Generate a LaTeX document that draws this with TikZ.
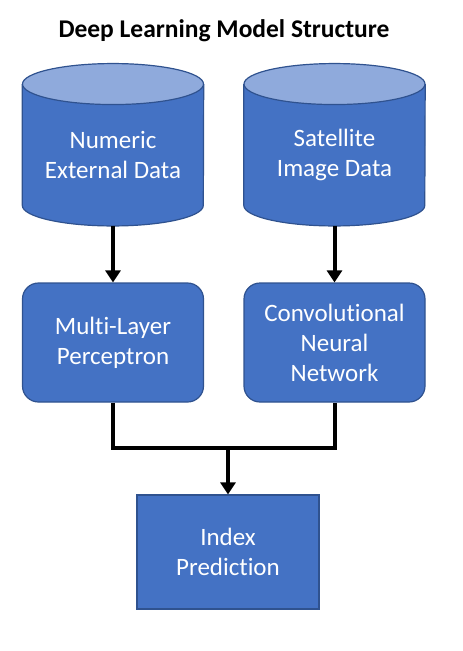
\documentclass[tikz,border=0pt]{standalone}
\usepackage{fontspec}
\setmainfont{Carlito}[Ligatures=NoCommon]
\usetikzlibrary{arrows.meta,backgrounds}
\definecolor{boxblue}{HTML}{4472C4}
\definecolor{boxedge}{HTML}{2F528F}
\definecolor{topblue}{HTML}{8FAADC}

\begin{document}
\begin{tikzpicture}[x=1pt,y=1pt,
    boxtext/.style={text=white,font=\fontsize{25}{30}\selectfont,align=center},
    storebody/.style={boxtext,inner sep=0pt,minimum width=181pt,minimum height=100.5pt},
    storeline/.style={draw=boxedge,line width=1.2pt},
    roundbox/.style={boxtext,rectangle,rounded corners=16pt,fill=boxblue,draw=boxedge,line width=1.2pt,
      minimum width=181pt,minimum height=119pt},
    predbox/.style={boxtext,rectangle,fill=boxblue,draw=boxedge,line width=1.2pt,
      minimum width=182pt,minimum height=114pt},
    link/.style={line width=4pt,black},
    flow/.style={link,-{Triangle[width=15pt,length=12pt]}}]
  \useasboundingbox (0,0) rectangle (463,-651);
  % title
  \node[font=\bfseries\fontsize{25.5}{30}\selectfont] (title) at (224,-31) {Deep Learning Model Structure};
  % inputs
  \node[storebody] (numdata) at (113,-155) {Numeric\\External Data};
  \node[storebody] (satdata) at (334.5,-155) {Satellite\\Image Data};
  \begin{scope}[on background layer]
    \foreach \s in {numdata,satdata}{
      \filldraw[storeline,fill=boxblue] ([yshift=20.5pt]\s.north west) -- (\s.south west)
        arc[start angle=180,end angle=360,x radius=90.5pt,y radius=20.5pt] -- ([yshift=20.5pt]\s.north east);
      \filldraw[storeline,fill=topblue] ([yshift=20.5pt]\s.north) ellipse[x radius=90.5pt,y radius=20.5pt];
    }
  \end{scope}
  % networks
  \node[roundbox] (mlp) at (113,-342.5) {Multi-Layer\\Perceptron};
  \node[roundbox] (cnn) at (334.5,-342.5) {Convolutional\\Neural\\Network};
  % output
  \node[predbox] (pred) at (228,-552) {Index\\Prediction};
  \coordinate (merge) at (228,-448);
  \draw[flow] ([yshift=-20.5pt]numdata.south) -- (mlp.north);
  \draw[flow] ([yshift=-20.5pt]satdata.south) -- (cnn.north);
  \draw[link] (mlp.south) |- (merge) -| (cnn.south);
  \draw[flow] (merge) -- (pred.north);
\end{tikzpicture}
\end{document}
